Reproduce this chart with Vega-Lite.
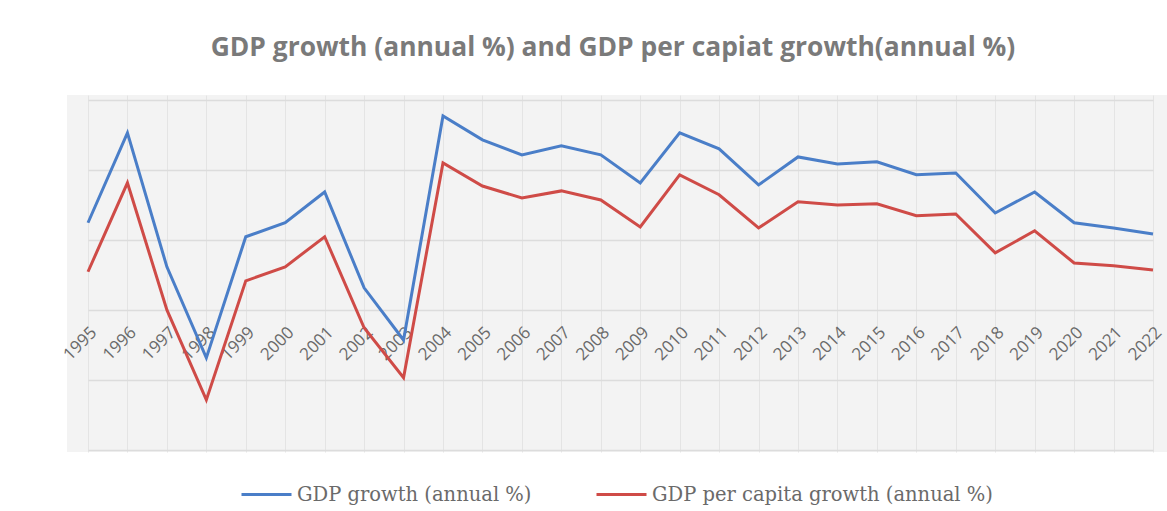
{
  "$schema": "https://vega.github.io/schema/vega-lite/v6.json",
  "width": 1100,
  "height": 357,
  "autosize": "none",
  "padding": {"left": 67, "top": 95, "right": 0, "bottom": 59},
  "background": "white",
  "title": {
    "text": "GDP growth (annual %) and GDP per capiat growth(annual %)",
    "anchor": "middle",
    "frame": "group",
    "dx": -4,
    "offset": 34,
    "font": "Open Sans",
    "fontSize": 26.4,
    "fontWeight": "bold",
    "color": "#7a7a7a"
  },
  "data": {
    "values": [
      {"year": "1995", "series": "GDP growth (annual %)", "value": 2.49},
      {"year": "1996", "series": "GDP growth (annual %)", "value": 5.06},
      {"year": "1997", "series": "GDP growth (annual %)", "value": 1.23},
      {"year": "1998", "series": "GDP growth (annual %)", "value": -1.37},
      {"year": "1999", "series": "GDP growth (annual %)", "value": 2.09},
      {"year": "2000", "series": "GDP growth (annual %)", "value": 2.49},
      {"year": "2001", "series": "GDP growth (annual %)", "value": 3.37},
      {"year": "2002", "series": "GDP growth (annual %)", "value": 0.63},
      {"year": "2003", "series": "GDP growth (annual %)", "value": -0.86},
      {"year": "2004", "series": "GDP growth (annual %)", "value": 5.54},
      {"year": "2005", "series": "GDP growth (annual %)", "value": 4.86},
      {"year": "2006", "series": "GDP growth (annual %)", "value": 4.43},
      {"year": "2007", "series": "GDP growth (annual %)", "value": 4.69},
      {"year": "2008", "series": "GDP growth (annual %)", "value": 4.43},
      {"year": "2009", "series": "GDP growth (annual %)", "value": 3.63},
      {"year": "2010", "series": "GDP growth (annual %)", "value": 5.06},
      {"year": "2011", "series": "GDP growth (annual %)", "value": 4.6},
      {"year": "2012", "series": "GDP growth (annual %)", "value": 3.57},
      {"year": "2013", "series": "GDP growth (annual %)", "value": 4.37},
      {"year": "2014", "series": "GDP growth (annual %)", "value": 4.17},
      {"year": "2015", "series": "GDP growth (annual %)", "value": 4.23},
      {"year": "2016", "series": "GDP growth (annual %)", "value": 3.86},
      {"year": "2017", "series": "GDP growth (annual %)", "value": 3.91},
      {"year": "2018", "series": "GDP growth (annual %)", "value": 2.77},
      {"year": "2019", "series": "GDP growth (annual %)", "value": 3.37},
      {"year": "2020", "series": "GDP growth (annual %)", "value": 2.49},
      {"year": "2021", "series": "GDP growth (annual %)", "value": 2.34},
      {"year": "2022", "series": "GDP growth (annual %)", "value": 2.17},
      {"year": "1995", "series": "GDP per capita growth (annual %)", "value": 1.09},
      {"year": "1996", "series": "GDP per capita growth (annual %)", "value": 3.63},
      {"year": "1997", "series": "GDP per capita growth (annual %)", "value": 0.0},
      {"year": "1998", "series": "GDP per capita growth (annual %)", "value": -2.57},
      {"year": "1999", "series": "GDP per capita growth (annual %)", "value": 0.83},
      {"year": "2000", "series": "GDP per capita growth (annual %)", "value": 1.23},
      {"year": "2001", "series": "GDP per capita growth (annual %)", "value": 2.09},
      {"year": "2002", "series": "GDP per capita growth (annual %)", "value": -0.51},
      {"year": "2003", "series": "GDP per capita growth (annual %)", "value": -1.94},
      {"year": "2004", "series": "GDP per capita growth (annual %)", "value": 4.2},
      {"year": "2005", "series": "GDP per capita growth (annual %)", "value": 3.54},
      {"year": "2006", "series": "GDP per capita growth (annual %)", "value": 3.2},
      {"year": "2007", "series": "GDP per capita growth (annual %)", "value": 3.4},
      {"year": "2008", "series": "GDP per capita growth (annual %)", "value": 3.14},
      {"year": "2009", "series": "GDP per capita growth (annual %)", "value": 2.37},
      {"year": "2010", "series": "GDP per capita growth (annual %)", "value": 3.86},
      {"year": "2011", "series": "GDP per capita growth (annual %)", "value": 3.29},
      {"year": "2012", "series": "GDP per capita growth (annual %)", "value": 2.34},
      {"year": "2013", "series": "GDP per capita growth (annual %)", "value": 3.09},
      {"year": "2014", "series": "GDP per capita growth (annual %)", "value": 3.0},
      {"year": "2015", "series": "GDP per capita growth (annual %)", "value": 3.03},
      {"year": "2016", "series": "GDP per capita growth (annual %)", "value": 2.69},
      {"year": "2017", "series": "GDP per capita growth (annual %)", "value": 2.74},
      {"year": "2018", "series": "GDP per capita growth (annual %)", "value": 1.63},
      {"year": "2019", "series": "GDP per capita growth (annual %)", "value": 2.26},
      {"year": "2020", "series": "GDP per capita growth (annual %)", "value": 1.34},
      {"year": "2021", "series": "GDP per capita growth (annual %)", "value": 1.26},
      {"year": "2022", "series": "GDP per capita growth (annual %)", "value": 1.14}
    ]
  },
  "mark": {"type": "line", "strokeWidth": 3, "strokeJoin": "miter", "clip": false},
  "encoding": {
    "x": {
      "field": "year",
      "type": "ordinal",
      "scale": {"type": "point", "range": [21, 1086], "padding": 0},
      "axis": {
        "title": null,
        "offset": -142,
        "domain": false,
        "ticks": false,
        "grid": true,
        "gridColor": "#e4e4e4",
        "gridWidth": 1,
        "labelAngle": -45,
        "labelFont": "Open Sans",
        "labelFontSize": 17,
        "labelColor": "#6a6a6a",
        "labelPadding": 14,
        "labelOverlap": false
      }
    },
    "y": {
      "field": "value",
      "type": "quantitative",
      "scale": {"domain": [-4.06, 6.14], "nice": false, "zero": false},
      "axis": {
        "title": null,
        "labels": false,
        "ticks": false,
        "domain": false,
        "grid": true,
        "values": [-4, -2, 0, 2, 4, 6],
        "gridColor": "#dcdcdc",
        "gridWidth": 1.5
      }
    },
    "color": {
      "field": "series",
      "type": "nominal",
      "scale": {
        "domain": ["GDP growth (annual %)", "GDP per capita growth (annual %)"],
        "range": ["#4a7ec8", "#cf4b47"]
      },
      "legend": {
        "title": null,
        "orient": "none",
        "direction": "horizontal",
        "legendX": 173,
        "legendY": 373,
        "symbolType": "stroke",
        "symbolSize": 2500,
        "symbolStrokeWidth": 3,
        "labelFont": "DejaVu Serif",
        "labelFontSize": 19.5,
        "labelColor": "#6a6a6a",
        "labelOffset": 4,
        "columnPadding": 58,
        "labelLimit": 500
      }
    }
  },
  "config": {
    "view": {"fill": "#f3f3f3", "stroke": null}
  }
}
